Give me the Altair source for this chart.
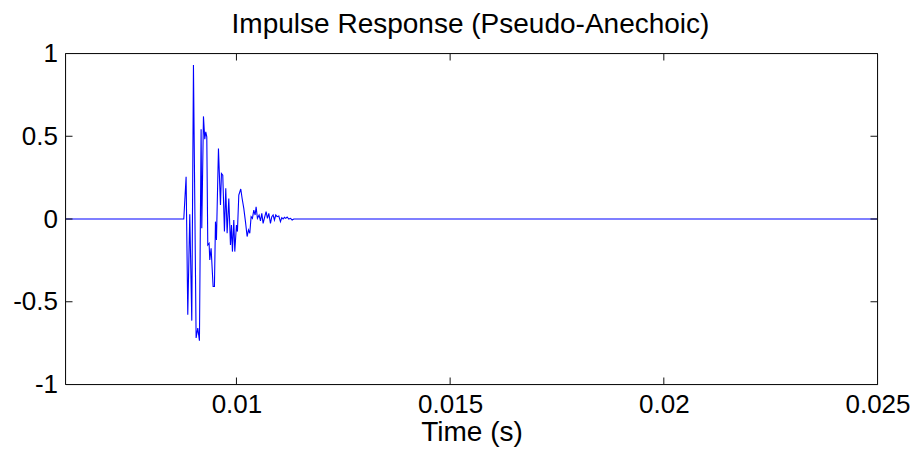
import altair as alt
import pandas as pd

# Impulse response samples (time in s, amplitude)
time_s = [0.006, 0.008768, 0.008822, 0.008861, 0.008908, 0.008955, 0.008994, 0.009056,
          0.009095, 0.009134, 0.009173, 0.009189, 0.009228, 0.009259, 0.009282, 0.009306,
          0.009329, 0.009360, 0.009376, 0.009407, 0.009454, 0.009485, 0.009509, 0.009532,
          0.009579, 0.009626, 0.009649, 0.009680, 0.009719, 0.009750, 0.009782, 0.009821,
          0.009860, 0.009883, 0.009906, 0.009938, 0.009961, 0.010000, 0.010023, 0.010055,
          0.010101, 0.010133, 0.010172, 0.010211, 0.010250, 0.010281, 0.010312, 0.010343,
          0.010374, 0.010406, 0.010437, 0.010460, 0.010491, 0.010530, 0.010562, 0.010593,
          0.010624, 0.010663, 0.010694, 0.010725, 0.010757, 0.010796, 0.010827, 0.010858,
          0.010889, 0.010920, 0.010952, 0.010991, 0.011030, 0.011061, 0.011092, 0.011123,
          0.011154, 0.011186, 0.011225, 0.011264, 0.011303, 0.011342, 0.011381, 0.025]
amplitude = [0.0, 0.0, 0.255, -0.578, 0.028, -0.614, 0.930, -0.719,
             -0.659, -0.735, 0.542, -0.056, 0.620, 0.482, 0.526, 0.496,
             -0.157, -0.147, -0.247, -0.177, -0.408, -0.408, -0.016, -0.127,
             0.426, 0.084, 0.275, 0.265, -0.076, 0.185, -0.086, 0.124,
             -0.157, -0.036, -0.197, -0.006, -0.197, -0.036, -0.076, 0.145,
             0.181, 0.124, 0.064, -0.016, -0.106, -0.066, -0.086, 0.014,
             0.004, 0.054, 0.024, 0.074, 0.004, 0.024, -0.012, 0.034,
             -0.026, 0.014, 0.044, 0.004, 0.034, -0.026, 0.014, 0.024,
             -0.006, 0.024, 0.014, 0.018, -0.016, 0.008, 0.0, 0.010,
             0.004, 0.012, 0.0, 0.004, -0.006, 0.0, 0.0, 0.0]

x_ticks = [0.01, 0.015, 0.02, 0.025]
y_ticks = [-1, -0.5, 0, 0.5, 1]
x_domain = [0.006, 0.025]
y_domain = [-1, 1]
title_text = ["Impulse Response (Pseudo-Anechoic)"]
x_title = "Time (s)"

W, H = 812, 331
TICK = 7
FONT = "Liberation Sans"

df = pd.DataFrame({"t": time_s, "a": amplitude})
xt = pd.DataFrame({"t": x_ticks})
yt = pd.DataFrame({"a": y_ticks})
tt = pd.DataFrame({"label": title_text})
box = pd.DataFrame({"k": [0]})

xscale = alt.Scale(domain=x_domain, nice=False, zero=False)
yscale = alt.Scale(domain=y_domain, nice=False, zero=False)

line = alt.Chart(df).mark_line(color="#0000ff", strokeWidth=1.1, clip=True).encode(
    x=alt.X("t:Q", scale=xscale,
            axis=alt.Axis(values=x_ticks, title=x_title, tickSize=0, domain=False,
                          grid=False, labelExpr="'' + datum.value", labelPadding=7,
                          labelFontSize=26, titleFontSize=28, titlePadding=1,
                          titleFontWeight="normal", titleFont=FONT, labelFont=FONT,
                          labelFlush=False, labelOverlap=False)),
    y=alt.Y("a:Q", scale=yscale,
            axis=alt.Axis(values=y_ticks, title=None, tickSize=0, domain=False,
                          grid=False, labelExpr="'' + datum.value", labelPadding=8,
                          labelFontSize=26, labelFont=FONT,
                          labelFlush=False, labelOverlap=False)),
)

tick_color = "#111111"
frame = alt.Chart(box).mark_rect(fill=None, stroke=tick_color, strokeWidth=1).encode(
    x=alt.value(0), x2=alt.value(W), y=alt.value(0), y2=alt.value(H))
bottom = alt.Chart(xt).mark_rule(color=tick_color, strokeWidth=1).encode(
    x=alt.X("t:Q", scale=xscale), y=alt.value(H), y2=alt.value(H - TICK))
top = alt.Chart(xt).mark_rule(color=tick_color, strokeWidth=1).encode(
    x=alt.X("t:Q", scale=xscale), y=alt.value(0), y2=alt.value(TICK))
left = alt.Chart(yt).mark_rule(color=tick_color, strokeWidth=1).encode(
    y=alt.Y("a:Q", scale=yscale), x=alt.value(0), x2=alt.value(TICK))
right = alt.Chart(yt).mark_rule(color=tick_color, strokeWidth=1).encode(
    y=alt.Y("a:Q", scale=yscale), x=alt.value(W - TICK), x2=alt.value(W))

title = alt.Chart(tt).mark_text(font=FONT, fontSize=28, color="black", align="center",
                                baseline="alphabetic").encode(
    text="label:N", x=alt.value(W / 2 - 1), y=alt.value(-21))

chart = alt.layer(line, frame, bottom, top, left, right, title).properties(
    width=W, height=H,
    autosize=alt.AutoSizeParams(type="none"),
    padding={"left": 57.5, "top": 45.5, "right": 32.5, "bottom": 66.5},
).configure_view(strokeWidth=0).configure_axis(
    labelColor="black", titleColor="black"
).configure(background="white")

chart.save("out.html", embed_options={"renderer": "svg", "actions": False})
